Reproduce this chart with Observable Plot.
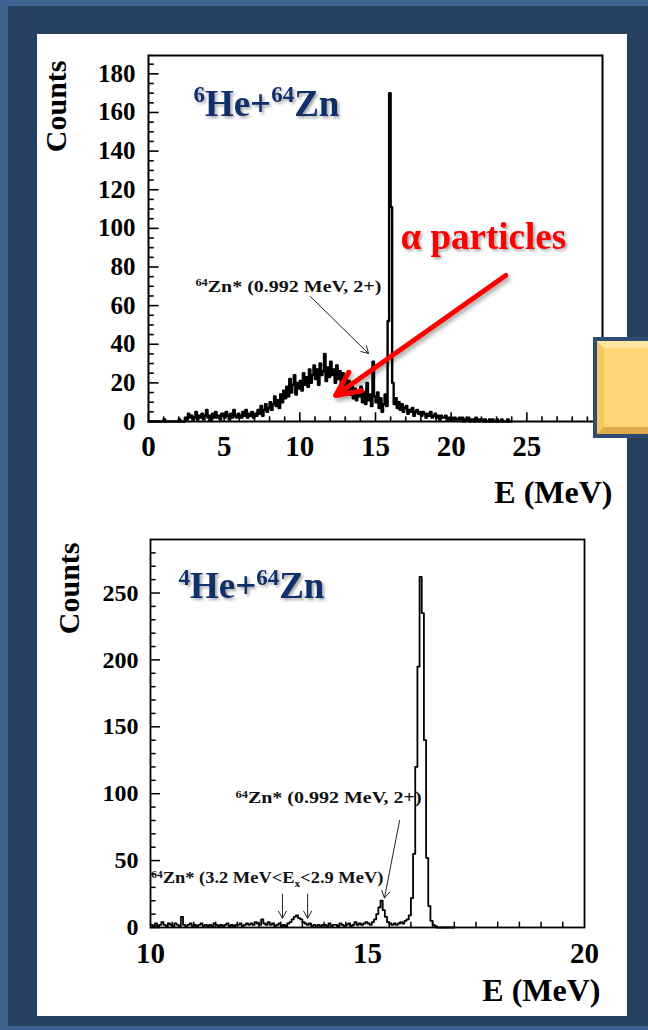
<!DOCTYPE html>
<html><head><meta charset="utf-8">
<script src="https://cdn.jsdelivr.net/npm/d3@7"></script>
<script src="https://cdn.jsdelivr.net/npm/@observablehq/plot@0.6"></script>
<style>
html,body{margin:0;padding:0;}
body{width:648px;height:1030px;background:#3d6391;position:relative;overflow:hidden;}
#frame{position:absolute;left:8px;top:6px;width:640px;height:1020px;background:#27405f;}
#panel{position:absolute;left:37px;top:34px;width:590px;height:982px;background:#fff;}
.chart{position:absolute;left:37px;}
#top{top:34px;}
#bottom{top:534px;}
#ybox{position:absolute;left:593px;top:337px;width:55px;height:101px;background:#2d4b73;box-sizing:border-box;padding:4px 0 4px 4px;}
#ybox div{width:100%;height:100%;box-sizing:border-box;background:#ffd775;border-top:7px solid #ffe6a2;border-left:7px solid #f6c663;border-bottom:7px solid #dfa94c;}
</style>
</head><body>
<div id="frame"></div>
<div id="panel"></div>
<div id="top" class="chart"></div>
<div id="bottom" class="chart"></div>
<div id="ybox"><div></div></div>
<script>
// ---------- Top panel: 6He + 64Zn (0.1 MeV bins starting at 0 MeV) ----------
const topBinStart = 0.0;
const topBinWidth = 0.1;
const topCounts = [
  0,0,0,0,0,0,0,0,0,0,
  1,0,0,0,0,0,0,0,0,0,
  1,0,0,0,2,1,4,2,3,1,
  2,5,1,3,2,4,1,3,6,2,
  3,1,4,2,5,2,3,1,4,3,
  2,5,3,1,4,2,6,3,2,4,
  3,2,5,3,6,2,4,3,5,2,
  4,3,6,4,8,3,6,9,5,7,
  10,6,9,13,8,11,7,14,10,16,
  12,18,13,22,15,19,24,14,20,17,
  21,16,25,19,23,18,27,20,24,29,
  22,27,19,30,24,26,35,21,28,23,
  31,24,27,20,29,22,26,18,25,19,
  23,16,21,14,19,12,17,11,16,13,
  18,10,15,9,20,11,14,8,31,13,
  10,15,7,12,5,9,14,8,52,170,
  111,20,9,12,7,10,6,9,5,7,
  8,4,6,5,7,3,5,6,4,5,
  3,5,4,2,4,3,5,2,3,4,
  2,3,1,3,2,2,3,1,2,1,
  2,1,2,1,1,2,1,2,0,1,
  1,2,0,1,1,0,2,1,0,1,
  1,0,1,0,0,1,0,1,0,0,
  1,0,0,1,0,0,0,1,0,0
];
const topXLabels = [0, 5, 10, 15, 20, 25];
const topXMinor = [1,2,3,4,6,7,8,9,11,12,13,14,16,17,18,19,21,22,23,24,26,27,28,29];
const topYLabels = [0, 20, 40, 60, 80, 100, 120, 140, 160, 180];
const topYMinor = [5,10,15,25,30,35,45,50,55,65,70,75,85,90,95,105,110,115,125,130,135,145,150,155,165,170,175,185];
const topTitle = [{E: 2.97, n: 158.4, label: "^6^He+^64^Zn"}];
const topNote = [{E: 3.1, n: 67.3, label: "^64^Zn* (0.992 MeV, 2+)"}];
const topNoteArrow = [{x1: 10.7, y1: 64.7, x2: 14.54, y2: 35.2}];
const alphaText = [{E: 16.66, n: 89.5, label: "α particles"}];
const alphaArrow = [{x1: 23.6, y1: 75.6, x2: 12.36, y2: 13.5}];

// ---------- Bottom panel: 4He + 64Zn (0.05 MeV bins starting at 10 MeV) ----------
const botBinStart = 10.0;
const botBinWidth = 0.05;
const botCounts = [
  2,1,3,1,2,4,2,1,3,2, 1,3,2,1,8,2,1,2,3,1,
  2,1,2,3,1,2,1,2,1,3, 2,1,2,1,2,3,1,2,1,2,
  2,3,1,2,3,2,3,2,4,3, 2,6,3,2,4,2,3,1,2,3,
  1,2,1,3,4,6,8,9,7,6, 4,3,2,3,1,2,1,2,1,2,
  2,1,3,1,2,2,1,3,2,1, 2,3,1,2,4,2,3,2,3,4,
  3,2,4,6,10,15,20,13,8,4, 3,2,3,2,3,4,3,5,6,9,
  22,55,120,195,262,235,140,52,16,5, 2,1,0,0,0,0,0,0,0,0
];
const botXLabels = [10, 15, 20];
const botXMinor = [10.5,11,11.5,12,12.5,13,13.5,14,14.5,15.5,16,16.5,17,17.5,18,18.5,19,19.5];
const botYLabels = [0, 50, 100, 150, 200, 250];
const botYMinor = [10,20,30,40,60,70,80,90,110,120,130,140,160,170,180,190,210,220,230,240,260,270,280];
const botTitle = [{E: 10.645, n: 246, label: "^4^He+^64^Zn"}];
const botNotes = [
  {E: 11.96, n: 92.8, label: "^64^Zn* (0.992 MeV, 2+)"},
  {E: 10.02, n: 32.9, label: "^64^Zn* (3.2 MeV<E~x~<2.9 MeV)"}
];
const botArrows = [
  {x1: 15.74, y1: 80, x2: 15.39, y2: 22},
  {x1: 13.04, y1: 25, x2: 13.04, y2: 7},
  {x1: 13.62, y1: 25, x2: 13.62, y2: 7}
];

// ---------- helpers ----------
function histo(start, width, counts) {
  const d = counts.map((c, i) => ({E: start + i * width, n: c}));
  d.push({E: start + counts.length * width, n: 0});
  return d;
}
const FONT = '"Liberation Serif", "Times New Roman", serif';
const NAVY = "#10306c";
const noteWidths = {
  "^64^Zn* (0.992 MeV, 2+)": 186,
  "^64^Zn* (3.2 MeV<E~x~<2.9 MeV)": 232
};
const titles = new Set(["^6^He+^64^Zn", "^4^He+^64^Zn", "α particles"]);

function richify(svg) {
  d3.select(svg).selectAll("text").each(function() {
    const raw = this.textContent;
    const isTitle = titles.has(raw);
    if (/[\^~]/.test(raw)) {
      const fs = parseFloat(getComputedStyle(this).fontSize) || 16;
      const parts = raw.split(/(\^[^\^]*\^|~[^~]*~)/).filter(s => s.length);
      this.textContent = "";
      let shift = 0;
      for (const p of parts) {
        const ts = document.createElementNS("http://www.w3.org/2000/svg", "tspan");
        let target = 0, txt = p;
        if (p[0] === "^") { target = -0.36 * fs; txt = p.slice(1, -1); ts.setAttribute("font-size", (0.62 * fs) + "px"); }
        else if (p[0] === "~") { target = 0.22 * fs; txt = p.slice(1, -1); ts.setAttribute("font-size", (0.62 * fs) + "px"); }
        const dy = target - shift;
        if (dy) ts.setAttribute("dy", dy + "px");
        shift = target;
        ts.textContent = txt;
        this.appendChild(ts);
      }
    }
    if (noteWidths[raw]) {
      this.setAttribute("textLength", noteWidths[raw]);
      this.setAttribute("lengthAdjust", "spacingAndGlyphs");
    }
    if (isTitle) this.style.filter = "drop-shadow(2px 2px 1.5px rgba(0,0,0,0.35))";
  });
  d3.select(svg).selectAll('g[stroke="#ff0000"]').style("filter", "drop-shadow(2px 3px 2px rgba(0,0,0,0.35))");
}

const baseStyle = {fontFamily: FONT, fontWeight: "bold", color: "black", background: "none", overflow: "visible"};

// ---------- top chart ----------
const topPlot = Plot.plot({
  width: 590, height: 500,
  marginLeft: 111, marginRight: 25, marginTop: 21, marginBottom: 113,
  x: {domain: [0, 30]},
  y: {domain: [0, 189.5]},
  style: baseStyle,
  marks: [
    Plot.line(histo(topBinStart, topBinWidth, topCounts), {x: "E", y: "n", curve: "step-after", stroke: "black", strokeWidth: 2.4}),
    Plot.ruleX(topXMinor, {x: d => d, y1: 0, y2: 2.4, stroke: "black", strokeWidth: 1.6}),
    Plot.ruleX(topXLabels, {x: d => d, y1: 0, y2: 4.5, stroke: "black", strokeWidth: 1.6}),
    Plot.ruleY(topYMinor, {y: d => d, x1: 0, x2: 0.38, stroke: "black", strokeWidth: 1.6}),
    Plot.ruleY(topYLabels, {y: d => d, x1: 0, x2: 0.7, stroke: "black", strokeWidth: 1.6}),
    Plot.frame({stroke: "black", strokeWidth: 2}),
    Plot.axisX({ticks: topXLabels, tickSize: 0, tickPadding: 14, fontSize: 29, fontWeight: "bold", label: null}),
    Plot.axisY({ticks: topYLabels, tickSize: 0, tickPadding: 13, fontSize: 25, fontWeight: "bold", label: null}),
    Plot.text(["Counts"], {frameAnchor: "top-left", rotate: -90, textAnchor: "end", lineAnchor: "middle", dx: -92, dy: 5, fontSize: 30, fontWeight: "bold", fill: "black"}),
    Plot.text(["E (MeV)"], {frameAnchor: "bottom-right", textAnchor: "end", lineAnchor: "middle", dx: 10, dy: 71, fontSize: 32, fontWeight: "bold", fill: "black"}),
    Plot.text(topTitle, {x: "E", y: "n", text: "label", textAnchor: "start", lineAnchor: "bottom", fontSize: 37, fontWeight: "bold", fill: NAVY}),
    Plot.text(topNote, {x: "E", y: "n", text: "label", textAnchor: "start", lineAnchor: "bottom", fontSize: 16, fontWeight: "bold", fill: "#111"}),
    Plot.arrow(topNoteArrow, {x1: "x1", y1: "y1", x2: "x2", y2: "y2", stroke: "#222", strokeWidth: 1, headLength: 12}),
    Plot.arrow(alphaArrow, {x1: "x1", y1: "y1", x2: "x2", y2: "y2", stroke: "#ff0000", strokeWidth: 5, headLength: 8, headAngle: 50}),
    Plot.text(alphaText, {x: "E", y: "n", text: "label", textAnchor: "start", lineAnchor: "bottom", fontSize: 37, fontWeight: "bold", fill: "#ff0000"})
  ]
});
document.getElementById("top").appendChild(topPlot);
richify(topPlot);

// ---------- bottom chart ----------
const botPlot = Plot.plot({
  width: 590, height: 482,
  marginLeft: 113, marginRight: 43, marginTop: 5, marginBottom: 89,
  x: {domain: [10, 20]},
  y: {domain: [0, 290]},
  style: baseStyle,
  marks: [
    Plot.line(histo(botBinStart, botBinWidth, botCounts), {x: "E", y: "n", curve: "step-after", stroke: "black", strokeWidth: 1.8}),
    Plot.ruleX(botXMinor, {x: d => d, y1: 0, y2: 4, stroke: "black", strokeWidth: 1.5}),
    Plot.ruleY(botYMinor, {y: d => d, x1: 10, x2: 10.13, stroke: "black", strokeWidth: 1.5}),
    Plot.ruleY(botYLabels, {y: d => d, x1: 10, x2: 10.23, stroke: "black", strokeWidth: 1.5}),
    Plot.frame({stroke: "black", strokeWidth: 1.8}),
    Plot.axisX({ticks: botXLabels, tickSize: 0, tickPadding: 15, fontSize: 29, fontWeight: "bold", label: null}),
    Plot.axisY({ticks: botYLabels, tickSize: 0, tickPadding: 12, fontSize: 24, fontWeight: "bold", label: null}),
    Plot.text(["Counts"], {frameAnchor: "top-left", rotate: -90, textAnchor: "end", lineAnchor: "middle", dx: -81, dy: 3, fontSize: 30, fontWeight: "bold", fill: "black"}),
    Plot.text(["E (MeV)"], {frameAnchor: "bottom-right", textAnchor: "end", lineAnchor: "middle", dx: 16, dy: 63, fontSize: 32, fontWeight: "bold", fill: "black"}),
    Plot.text(botTitle, {x: "E", y: "n", text: "label", textAnchor: "start", lineAnchor: "bottom", fontSize: 37, fontWeight: "bold", fill: NAVY}),
    Plot.text(botNotes, {x: "E", y: "n", text: "label", textAnchor: "start", lineAnchor: "bottom", fontSize: 16, fontWeight: "bold", fill: "#111"}),
    Plot.arrow(botArrows, {x1: "x1", y1: "y1", x2: "x2", y2: "y2", stroke: "#222", strokeWidth: 1, headLength: 12})
  ]
});
document.getElementById("bottom").appendChild(botPlot);
richify(botPlot);
</script>
</body></html>
